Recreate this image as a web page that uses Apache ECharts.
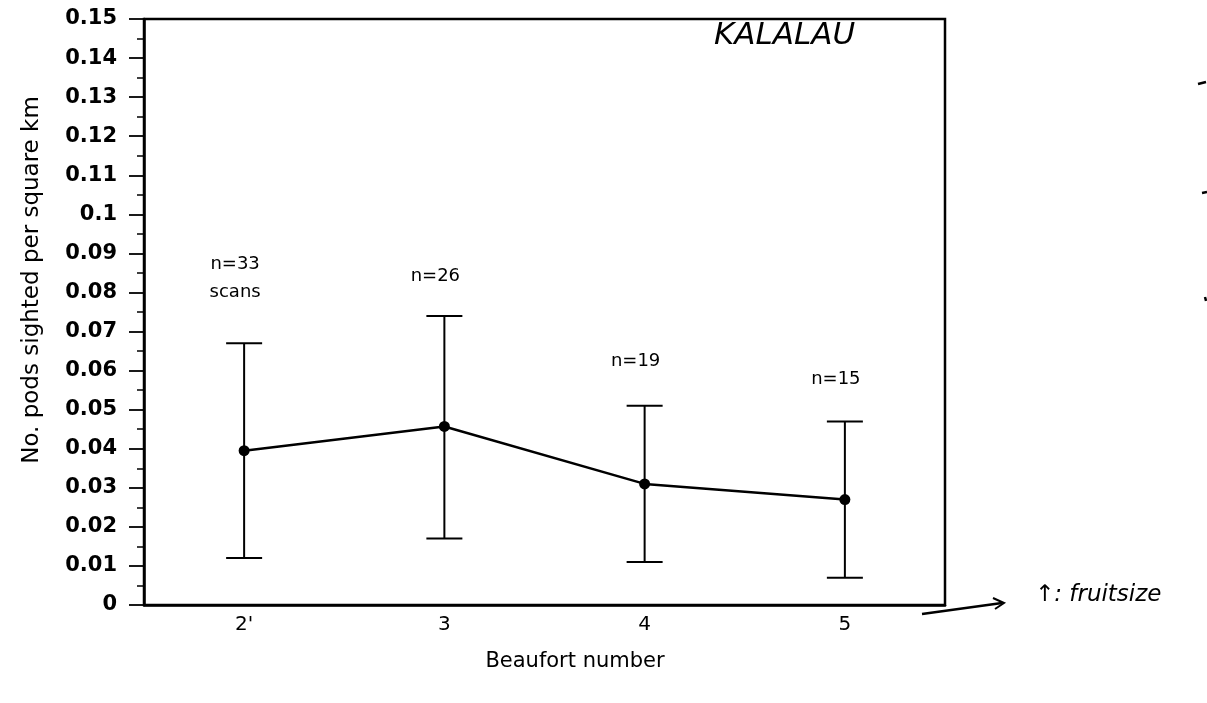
<!DOCTYPE html>
<html>
<head>
<meta charset="utf-8">
<script src="https://cdn.jsdelivr.net/npm/echarts@6/dist/echarts.min.js"></script>
<style>html,body{margin:0;padding:0;background:#fff}#c{width:1207px;height:703px}</style>
</head>
<body>
<div id="c"></div>
<script>
// ---- data ----
const categories = ["2'", "3", "4", "5"];
const means = [0.0395, 0.0457, 0.031, 0.027];
const lowErr = [0.012, 0.017, 0.011, 0.007];
const highErr = [0.067, 0.074, 0.051, 0.047];
const nLabels = ["n=33\nscans", "n=26", "n=19", "n=15"];
const nLabelY = [0.0872, 0.0841, 0.0623, 0.0577];
const yTitle = 'No. pods sighted per square km';
const xTitle = 'Beaufort number';

const chart = echarts.init(document.getElementById('c'));
const font = '"DejaVu Sans", "Liberation Sans", Arial, sans-serif';

const errData = categories.map((c, i) => [i, lowErr[i], highErr[i]]);
const labelData = categories.map((c, i) => [i, nLabelY[i], nLabels[i]]);

chart.setOption({
  animation: false,
  backgroundColor: '#fff',
  grid: { left: 144, right: 262, top: 19, bottom: 98, show: true, borderColor: '#000', borderWidth: 2.5, backgroundColor: 'transparent' },
  xAxis: {
    type: 'category',
    data: categories,
    boundaryGap: true,
    axisLine: { lineStyle: { color: '#000', width: 2.5 } },
    axisTick: { show: false },
    axisLabel: { color: '#000', fontFamily: font, fontSize: 20, margin: 10 }
  },
  yAxis: {
    type: 'value',
    min: 0, max: 0.15, interval: 0.01,
    splitLine: { show: false },
    axisLine: { show: true, lineStyle: { color: '#000', width: 2.5 } },
    axisTick: { show: true, inside: false, length: 15, lineStyle: { color: '#000', width: 1.8 } },
    minorTick: { show: true, splitNumber: 2, length: 7, lineStyle: { color: '#000', width: 1.5 } },
    axisLabel: { color: '#000', fontFamily: font, fontSize: 21, fontWeight: 'bold', margin: 27,
      formatter: v => String(parseFloat(v.toFixed(2))) }
  },
  series: [
    {
      type: 'custom',
      data: errData,
      z: 3,
      renderItem: (params, api) => {
        const lo = api.coord([api.value(0), api.value(1)]);
        const hi = api.coord([api.value(0), api.value(2)]);
        const hw = 18;
        const st = { stroke: '#000', lineWidth: 2 };
        return { type: 'group', children: [
          { type: 'line', shape: { x1: lo[0], y1: lo[1], x2: hi[0], y2: hi[1] }, style: st },
          { type: 'line', shape: { x1: lo[0] - hw, y1: lo[1], x2: lo[0] + hw, y2: lo[1] }, style: st },
          { type: 'line', shape: { x1: hi[0] - hw, y1: hi[1], x2: hi[0] + hw, y2: hi[1] }, style: st }
        ]};
      }
    },
    {
      type: 'line',
      data: means,
      z: 4,
      symbol: 'circle',
      symbolSize: 11,
      itemStyle: { color: '#000' },
      lineStyle: { color: '#000', width: 2.5 }
    },
    {
      type: 'custom',
      data: labelData,
      z: 5,
      renderItem: (params, api) => {
        const p = api.coord([api.value(0), api.value(1)]);
        return { type: 'text', x: p[0] - 9, y: p[1] - 14, style: {
          text: labelData[params.dataIndex][2], fill: '#000', font: '18px ' + font,
          textAlign: 'center', textVerticalAlign: 'top', lineHeight: 28 } };
      }
    }
  ],
  graphic: [
    { type: 'text', x: 32, y: 280, rotation: Math.PI / 2,
      style: { text: yTitle, fill: '#000', font: '23px ' + font, textAlign: 'center', textVerticalAlign: 'middle' } },
    { type: 'text', x: 575, y: 662,
      style: { text: xTitle, fill: '#000', font: '21px ' + font, textAlign: 'center', textVerticalAlign: 'middle' } },
    { type: 'text', left: 714, top: 20, style: { text: 'KALALAU', fill: '#000', font: 'italic 31px "DejaVu Sans", sans-serif' } },
    { type: 'line', shape: { x1: 922, y1: 614, x2: 1002, y2: 603 }, style: { stroke: '#000', lineWidth: 2.5 } },
    { type: 'polyline', shape: { points: [[993, 598], [1004, 603], [995, 609]] }, style: { stroke: '#000', lineWidth: 2, fill: null } },
    { type: 'text', left: 1035, top: 584, style: { text: '↑: fruitsize', fill: '#000', font: 'italic 23px "DejaVu Sans", sans-serif' } },
    { type: 'line', shape: { x1: 1198, y1: 84, x2: 1206, y2: 82 }, style: { stroke: '#000', lineWidth: 2.5 } },
    { type: 'line', shape: { x1: 1202, y1: 193, x2: 1207, y2: 192 }, style: { stroke: '#000', lineWidth: 2.5 } },
    { type: 'line', shape: { x1: 1205, y1: 297, x2: 1206, y2: 301 }, style: { stroke: '#000', lineWidth: 2.5 } }
  ]
});
</script>
</body>
</html>
